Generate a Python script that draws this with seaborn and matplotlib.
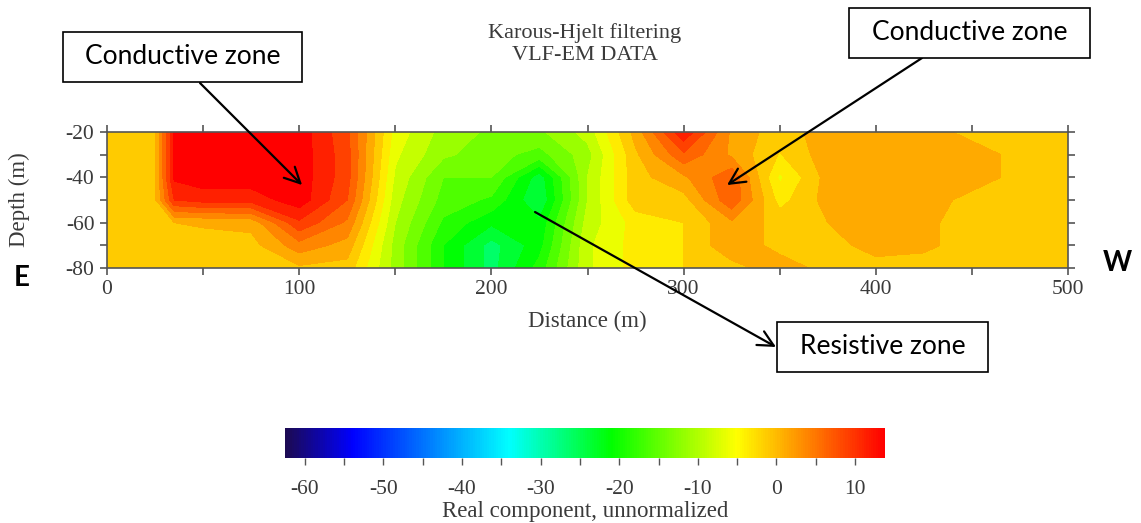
import numpy as np
import matplotlib
matplotlib.use("Agg")
import matplotlib.pyplot as plt
import seaborn as sns
from matplotlib.colors import LinearSegmentedColormap, Normalize
from matplotlib.patches import Rectangle
import matplotlib.cm as cm

# ---------------- data ----------------
distance = [0, 25, 35, 50, 75, 100, 125, 150, 175, 200, 225, 250,
            275, 300, 325, 350, 375, 400, 425, 450, 475, 500]
depths = [-20, -30, -40, -50, -60, -70, -80]

d20 = [-1, -0.5, 13, 14, 14, 14, 8, -6, -11, -13, -13, -9, 1, 12, 2, -1.5, 1.5, 1.5, 1.5, -1, -1, -1]
d30 = [-1, -0.5, 13, 14, 14, 14, 8.5, -7, -12, -14, -16, -11, -0.5, 7, 2, -2.7, 1.5, 1.5, 1.5, 1.5, -1, -1]
d40 = [-1, -0.5, 13, 14, 14, 14, 8.5, -8, -15, -15, -24, -10, -1, 2, 7, -5.5, 1, 1.5, 1.5, 1.5, -1, -1]
d50 = [-1, -0.5, 10, 11, 11, 14, 7.5, -9, -16, -18, -25, -10, -1, -1, 7, -3.5, 1, 1.5, 1.5, -1, -1, -1]
d60 = [-1, -1, 0, 0.3, 0.8, 9.5, 4.5, -10, -18, -22, -22, -9, -4, -2.5, 2, -1, 0, 1.5, 0.5, -1, -1, -1]
d70 = [-1, -1, -1, -1, -1, 4, 1.5, -11, -20, -26, -21, -8, -4, -2.5, 2, -1, -1, 1, 0.5, -1, -1, -1]
d80 = [-1, -1, -1, -1, -1, -0.5, -1, -11, -20, -26, -19, -8, -4, -2.5, -1, 1.5, -1, -1, -1, -1, -1, -1]

cbar_ticks = [-60, -50, -40, -30, -20, -10, 0, 10]
x_ticks = [0, 100, 200, 300, 400, 500]
y_ticks = [-20, -40, -60, -80]

title_text = "Karous-Hjelt filtering\nVLF-EM DATA"
xlabel_text = "Distance (m)"
ylabel_text = "Depth (m)"
cbar_label = "Real component, unnormalized"
notes = ["Conductive zone", "Conductive zone", "Resistive zone"]

# ---------------- style ----------------
sns.set_theme(style="white")
plt.rcParams["font.family"] = ["Liberation Serif", "DejaVu Serif"]
plt.rcParams["axes.unicode_minus"] = False
serif = ["Liberation Serif", "DejaVu Serif"]
sansf = ["Lato", "DejaVu Sans"]
tcol = "#3a3a3a"

vmin, vmax = -62.5, 13.8
anchors = [(-62.5, "#1c0a52"), (-54, "#0000ff"), (-34, "#00ffff"),
           (-21, "#00ff00"), (-5, "#ffff00"), (13.8, "#ff0000")]
cmap = LinearSegmentedColormap.from_list(
    "vlf", [((v - vmin) / (vmax - vmin), c) for v, c in anchors])
norm = Normalize(vmin, vmax)

W, H = 1141, 523
fig = plt.figure(figsize=(W / 100, H / 100), dpi=100)
fig.patch.set_facecolor("white")

ax = fig.add_axes([107 / W, 1 - 268 / H, 961 / W, 136 / H])
Z = np.array([d20, d30, d40, d50, d60, d70, d80])
X, Y = np.meshgrid(distance, depths)
levels = np.arange(-62.5, 15.1, 2.5)
ax.contourf(X, Y, Z, levels=levels, cmap=cmap, norm=norm, extend="both")
ax.set_xlim(0, 500)
ax.set_ylim(-80, -20)

ax.set_xticks(x_ticks)
ax.set_xticks(np.arange(0, 501, 50), minor=True)
ax.set_yticks(y_ticks)
ax.set_yticks(np.arange(-80, -19, 10), minor=True)
ax.tick_params(which="both", direction="out", length=5, width=1.2, color="#555555",
               top=True, right=True, bottom=True, left=True,
               labeltop=False, labelright=False, labelsize=15.5, labelcolor=tcol, pad=4)
for lab in ax.get_xticklabels() + ax.get_yticklabels():
    lab.set_fontfamily(serif)
for s in ax.spines.values():
    s.set_color("#555555")
    s.set_linewidth(1.2)
ax.set_xlabel(xlabel_text, fontsize=16.5, color=tcol, family=serif, labelpad=8)
ax.set_ylabel(ylabel_text, fontsize=16.5, color=tcol, family=serif, labelpad=26)

fig.text(585 / W, 1 - 44 / H, title_text, ha="center", va="center", fontsize=16,
         color=tcol, family=serif, linespacing=1.2)

# colorbar
cax = fig.add_axes([285 / W, 1 - 458 / H, 600 / W, 30 / H])
sm = cm.ScalarMappable(norm=norm, cmap=cmap)
cb = fig.colorbar(sm, cax=cax, orientation="horizontal")
cb.outline.set_visible(False)
cb.set_ticks(cbar_ticks)
cax.set_xticks(np.arange(-60, 11, 5), minor=True)
cax.tick_params(which="both", direction="out", length=5, width=1, color="#555555",
                labelsize=15.5, labelcolor=tcol, pad=11)
for lab in cax.get_xticklabels():
    lab.set_fontfamily(serif)
cb.set_label(cbar_label, fontsize=16.5, color=tcol, family=serif, labelpad=1)

# annotation boxes
boxes = [(63, 32, 302, 82), (849, 8, 1090, 58), (777, 322, 988, 372)]
for (x0, y0, x1, y1), t in zip(boxes, notes):
    fig.patches.append(Rectangle((x0 / W, 1 - y1 / H), (x1 - x0) / W, (y1 - y0) / H,
                                 transform=fig.transFigure, facecolor="white",
                                 edgecolor="black", lw=1.2, zorder=5))
    fig.text((x0 + x1) / 2 / W, 1 - (y0 + y1) / 2 / H, t, ha="center", va="center",
             fontsize=19, family=sansf, color="black", zorder=6)

ap = dict(arrowstyle="->", lw=1.6, color="black", mutation_scale=28,
          shrinkA=0, shrinkB=0)
ax.annotate("", xy=(101.5, -43.4), xycoords="data",
            xytext=(200, H - 83), textcoords="figure pixels",
            arrowprops=ap, annotation_clip=False)
ax.annotate("", xy=(322.6, -43.4), xycoords="data",
            xytext=(922, H - 58), textcoords="figure pixels",
            arrowprops=ap, annotation_clip=False)
ax.annotate("", xy=(776, H - 347), xycoords="figure pixels",
            xytext=(222.7, -55.3), textcoords="data",
            arrowprops=ap, annotation_clip=False)

fig.text(22 / W, 1 - 278 / H, "E", ha="center", va="center", fontsize=20,
         fontweight="bold", family=sansf, color="black")
fig.text(1117 / W, 1 - 263 / H, "W", ha="center", va="center", fontsize=20,
         fontweight="bold", family=sansf, color="black")

fig.savefig("out.png", dpi=100, facecolor="white")
